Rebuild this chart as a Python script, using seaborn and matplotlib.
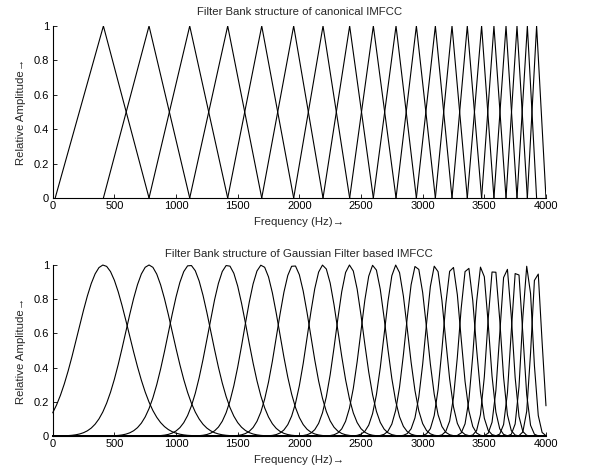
import numpy as np
import pandas as pd
import matplotlib
matplotlib.use("Agg")
import matplotlib.pyplot as plt
import seaborn as sns

# filter edge / centre frequencies (Hz)
edges = [20, 411, 781, 1111, 1419, 1695, 1954, 2192, 2408, 2600, 2784,
         2949, 3103, 3238, 3362, 3478, 3578, 3676, 3765, 3849, 3924, 4000]
fft_bins = np.arange(129) * 31.25   # 256-point FFT at 8 kHz
alpha = 3.7                          # gaussian width factor

x_ticks = [0, 500, 1000, 1500, 2000, 2500, 3000, 3500, 4000]
y_ticks = [0, 0.2, 0.4, 0.6, 0.8, 1]
y_tick_labels = ["0", "0.2", "0.4", "0.6", "0.8", "1"]

sns.set_style("ticks", {"xtick.direction": "in", "ytick.direction": "in"})
plt.rcParams["font.family"] = ["Liberation Sans", "DejaVu Sans"]
plt.rcParams["font.size"] = 8

# triangular filters
rows = []
for i in range(len(edges) - 2):
    for f, a in zip(edges[i:i + 3], [0, 1, 0]):
        rows.append((i, f, a))
tri = pd.DataFrame(rows, columns=["filter", "freq", "amp"])

# gaussian filters
rows = []
for i in range(len(edges) - 2):
    c = edges[i + 1]
    s = (edges[i + 2] - edges[i]) / alpha
    for f in fft_bins:
        rows.append((i, f, np.exp(-(f - c) ** 2 / (2 * s ** 2))))
gau = pd.DataFrame(rows, columns=["filter", "freq", "amp"])

fig = plt.figure(figsize=(5.93, 4.70), dpi=100)
ax1 = fig.add_axes([0.0889, 0.5787, 0.8318, 0.366])
ax2 = fig.add_axes([0.0889, 0.0723, 0.8318, 0.3639])

sns.lineplot(data=tri, x="freq", y="amp", units="filter", estimator=None,
             color="black", linewidth=0.8, ax=ax1)
sns.lineplot(data=gau, x="freq", y="amp", units="filter", estimator=None,
             color="black", linewidth=0.8, ax=ax2)
for ln in ax2.lines:
    ln.set_clip_on(False)

titles = ["Filter Bank structure of canonical IMFCC",
          "Filter Bank structure of Gaussian Filter based IMFCC"]
pads = [8, 6]
for ax, t, p in zip([ax1, ax2], titles, pads):
    ax.set_xlim(0, 4000)
    ax.set_ylim(0, 1)
    ax.set_xticks(x_ticks)
    ax.set_yticks(y_ticks)
    ax.set_yticklabels(y_tick_labels)
    ax.set_title(t, fontsize=8.2, pad=p)
    ax.set_xlabel("Frequency (Hz)\u2192", fontsize=8.2, labelpad=4)
    ax.set_ylabel("Relative Amplitude\u2192", fontsize=8.2, labelpad=6)
    ax.tick_params(labelsize=8, length=3, width=0.6, pad=2.5, colors="black")
    for sp in ["left", "bottom"]:
        ax.spines[sp].set_linewidth(0.8)
        ax.spines[sp].set_color("black")
    sns.despine(ax=ax)

fig.savefig("out.png", dpi=100)
